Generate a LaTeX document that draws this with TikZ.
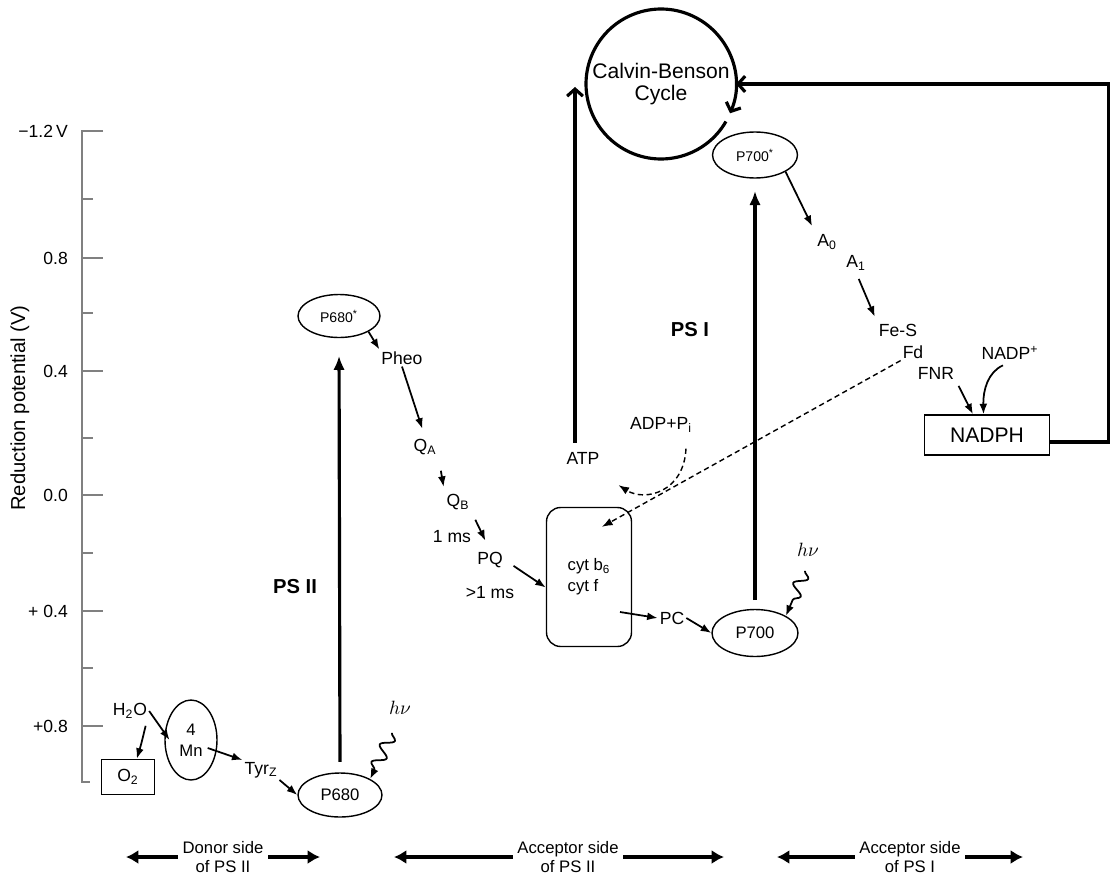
\documentclass[tikz,border=0pt]{standalone}
\usepackage{fontspec}
\setmainfont{Liberation Sans}
\usetikzlibrary{arrows.meta,shapes.geometric,decorations.pathmorphing}

\tikzset{
  testo/.style={inner sep=1pt,font=\fontsize{10}{11}\selectfont},
  ovale/.style={ellipse,draw,line width=0.8pt,inner sep=0pt,font=\fontsize{9.5}{12}\selectfont},
  scatola/.style={draw,line width=0.8pt,inner sep=0pt},
  freccia/.style={-{Latex[length=6pt,width=4.5pt]},line width=1pt},
  grossa/.style={-{Latex[length=8pt,width=6.5pt]},line width=1.8pt},
  aperta/.style={-{Straight Barb[length=4pt,width=9pt]},line width=1.8pt},
  punti/.style={-{Latex[length=6pt,width=4.5pt]},dash pattern={on 3pt off 2pt},line width=0.8pt},
  luce/.style={-{Latex[length=6pt,width=4.5pt]},line width=1pt,decorate,
    decoration={snake,amplitude=3.5pt,segment length=11pt,post length=5pt}},
  lato/.style={align=center,inner sep=2.5pt,font=\fontsize{9.5}{10.5}\selectfont},
  bilato/.style={-{Latex[length=7pt,width=8pt]},line width=1.8pt}
}

\begin{document}
\begin{tikzpicture}[x=0.02cm,y=-0.02cm]
  \useasboundingbox (0,0) rectangle (1111,882);
  % asse dei potenziali
  \draw[gray,line width=1.1pt] (103,131) -- (82,131) -- (82,782) -- (90,782);
  \foreach \y/\v in {258/0.8,371/0.4,495/0.0,611/{+ 0.4},726/{+0.8}} {
    \draw[gray,line width=1.1pt] (82,\y) -- (103,\y);
    \node[anchor=east,font=\fontsize{10}{12}\selectfont] (v\y) at (74,\y) {\v};
  }
  \foreach \y in {199,313,438,553,668}
    \draw[gray,line width=1.1pt] (82,\y) -- (93,\y);
  \node[anchor=east,font=\fontsize{10}{12}\selectfont] (vtop) at (74,131) {−1.2\,V};
  \node[rotate=90,font=\fontsize{11.5}{13}\selectfont] (asse) at (20,408) {Reduction potential (V)};

  % lato donatore PS II
  \node[scatola,minimum width=1.06cm,minimum height=0.7cm,font=\fontsize{10}{11}\selectfont] (o2) at (128,777) {O\textsubscript{2}};
  \node[testo] (h2o) at (130,711) {H\textsubscript{2}O};
  \node[ovale,minimum width=1.04cm,minimum height=1.6cm,align=center] (mn) at (191,740) {4\\Mn};
  \node[testo] (tyr) at (261,770) {Tyr\textsubscript{Z}};
  \node[ovale,minimum width=1.68cm,minimum height=0.88cm] (p680) at (340,795) {P680};
  \node[ovale,minimum width=1.64cm,minimum height=0.86cm,font=\fontsize{8}{9}\selectfont] (p680s) at (339,316) {P680\textsuperscript{*}};
  \node[font=\bfseries\fontsize{11.5}{13}\selectfont] (ps2) at (295,587) {PS II};
  \node[font=\fontsize{10.5}{12}\selectfont] (hv1) at (400,708) {$h\nu$};

  % lato accettore PS II
  \node[testo] (pheo) at (402,358) {Pheo};
  \node[testo] (qa) at (425,447) {Q\textsubscript{A}};
  \node[testo] (qb) at (458,502) {Q\textsubscript{B}};
  \node[testo] (ms1) at (452,537) {1 ms};
  \node[testo] (pq) at (490,560) {PQ};
  \node[testo] (ms2) at (490,593) {>1 ms};
  \node[scatola,rounded corners=8pt,minimum width=1.7cm,minimum height=2.78cm,align=left,font=\fontsize{9.5}{12}\selectfont] (cyt) at (589,577) {cyt b\textsubscript{6}\\cyt f};
  \node[testo] (pc) at (672,618) {PC};
  \node[testo] (atp) at (583,458) {ATP};
  \node[testo] (adp) at (661,425) {ADP+P\textsubscript{i}};

  % PS I
  \node[ovale,minimum width=1.72cm,minimum height=0.94cm] (p700) at (755,633) {P700};
  \node[ovale,minimum width=1.7cm,minimum height=0.92cm,font=\fontsize{8}{9}\selectfont] (p700s) at (755,155) {P700\textsuperscript{*}};
  \node[font=\bfseries\fontsize{11.5}{13}\selectfont] (ps1) at (690,330) {PS I};
  \node[font=\fontsize{10.5}{12}\selectfont] (hv2) at (808,550) {$h\nu$};
  \node[testo] (a0) at (827,242) {A\textsubscript{0}};
  \node[testo] (a1) at (856,263) {A\textsubscript{1}};
  \node[testo] (fes) at (898,330) {Fe-S};
  \node[testo] (fd) at (913,352) {Fd};
  \node[testo] (fnr) at (936,373) {FNR};
  \node[testo] (nadp) at (1010,353) {NADP\textsuperscript{+}};
  \node[scatola,minimum width=2.5cm,minimum height=0.8cm,font=\fontsize{12}{14}\selectfont] (nadph) at (987,435) {NADPH};
  \node[circle,inner sep=0pt,outer sep=0pt,minimum size=3cm] (cb) at (661,84) {};
  \node[align=center,font=\fontsize{12}{13}\selectfont] (cbt) at (cb) {Calvin-Benson\\Cycle};

  % frecce
  \draw[freccia] ([xshift=-2pt,yshift=-3pt]h2o.south east) .. controls (141,745) .. ([xshift=5pt]o2.north);
  \draw[freccia] (h2o.east) -- ([xshift=3pt]mn.west);
  \draw[freccia] ([shift={(-10,8)}]mn.east) -- (tyr.north west);
  \draw[freccia] (tyr.south east) -- (p680.west);
  \draw[grossa,shorten <=6pt,shorten >=10pt] (p680.north) -- (p680s.south);
  \draw[luce] ([shift={(-8,12)}]hv1.south) -- (p680.north east);
  \draw[freccia] (p680s.south east) -- (pheo.north west);
  \draw[freccia,shorten >=5pt] (pheo.south) -- (qa.north);
  \draw[freccia,shorten <=8pt,shorten >=3pt] (qa.south east) -- (qb.north west);
  \draw[freccia,shorten <=5pt,shorten >=6pt] (qb.south east) -- (pq.north);
  \draw[freccia,shorten <=6pt] (pq.east) -- ([yshift=-6pt]cyt.west);
  \draw[freccia] ([shift={(31,35)}]cyt.center) -- (pc.west);
  \draw[freccia] (pc.east) -- (p700.west);
  \draw[grossa,shorten <=5pt,shorten >=7pt] (p700.north) -- (p700s.south);
  \draw[luce] ([shift={(-3,8)}]hv2.south) -- (p700.north east);
  \draw[freccia,shorten >=4pt] (p700s.south east) -- (a0.north west);
  \draw[freccia,shorten <=4pt,shorten >=3pt] (a1.south) -- (fes.north west);
  \draw[freccia,shorten <=3pt] (fnr.south east) -- ([xshift=-8pt]nadph.north);
  \draw[freccia] ([xshift=-4pt,yshift=-2pt]nadp.south) .. controls (988,372) and (983,390) .. ([xshift=-2pt]nadph.north);
  \draw[punti] ([shift={(-8,14)}]adp.south east) .. controls (684,492) and (645,502) .. ([shift={(17,19)}]atp.south east);
  \draw[punti] (fd.south west) -- ([shift={(13,20)}]cyt.north);

  % ciclo di Calvin-Benson
  \coordinate (atpin) at (575,87);
  \draw[aperta,shorten <=4pt] (atpin |- atp.north) -- (atpin);
  \draw[aperta] ([yshift=-4pt]nadph.east) -- ++(58,0) |- (cb.east);
  \draw[aperta] (cb.330) arc[start angle=330, end angle=-23, radius=1.5cm];

  % lati
  \foreach \n/\cx/\sx/\dx/\txt in {ds/223/126/320/{Donor side\\of PS II},
      as2/568/394/724/{Acceptor side\\of PS II},as1/910/777/1023/{Acceptor side\\of PS I}} {
    \node[lato] (\n) at (\cx,857) {\txt};
    \coordinate (\n l) at (\sx,857);
    \coordinate (\n r) at (\dx,857);
    \draw[bilato] (\n.west) -- (\n l);
    \draw[bilato] (\n.east) -- (\n r);
  }
\end{tikzpicture}
\end{document}
